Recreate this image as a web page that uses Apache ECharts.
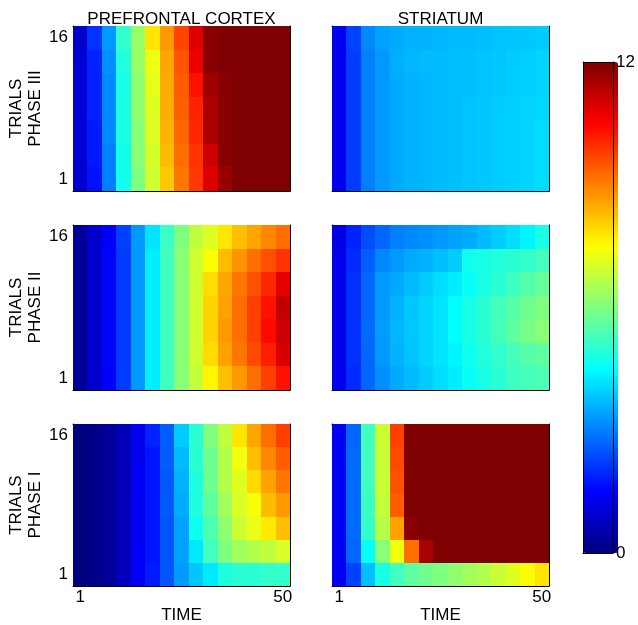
<!DOCTYPE html>
<html><head><meta charset="utf-8">
<script src="https://cdn.jsdelivr.net/npm/echarts@6/dist/echarts.min.js"></script>
<style>html,body{margin:0;padding:0;background:#fff}#c{width:638px;height:625px}</style>
</head><body><div id="c"></div>
<script>
// ---------- data ----------
const TIME = [1, 4.5, 8, 11.5, 15, 18.5, 22, 25.5, 29, 32.5, 36, 39.5, 43, 46.5, 50];
const TRIALS = [1, 3.5, 6, 8.5, 11, 13.5, 16];
const TIME_TICKS = [1, 8, 15, 22, 29, 36, 43, 50];
const TIME_LABELS = [1, 50];
const TRIAL_LABELS = [1, 16];
const COLOR_RANGE = [0, 12];
const REGIONS = ['PREFRONTAL CORTEX', 'STRIATUM'];
const PHASES = ['PHASE III', 'PHASE II', 'PHASE I'];
const X_NAME = 'TIME';
const Y_NAME = 'TRIALS';

// rows listed from trial 1 (bottom) to trial 16 (top)
const PFC_III = [
  [0.95, 1.7, 3.0, 4.7, 6.0, 6.95, 8.15, 9.1, 9.85, 10.9, 11.7, 12, 12, 12, 12],
  [1.0, 1.8, 3.0, 4.7, 6.1, 7.0, 8.3, 9.2, 9.9, 11.1, 11.9, 12, 12, 12, 12],
  [1.0, 1.8, 3.1, 4.8, 6.1, 7.1, 8.4, 9.3, 10.05, 11.5, 11.9, 12, 12, 12, 12],
  [1.0, 1.9, 3.1, 4.8, 6.2, 7.1, 8.45, 9.35, 10.1, 11.5, 11.9, 12, 12, 12, 12],
  [1.0, 1.9, 3.1, 4.8, 6.2, 7.2, 8.5, 9.4, 10.3, 11.6, 11.9, 12, 12, 12, 12],
  [1.0, 1.9, 3.2, 4.9, 6.3, 7.3, 8.55, 9.5, 10.7, 11.9, 12, 12, 12, 12, 12],
  [0.9, 2.1, 3.3, 5.1, 6.3, 7.8, 8.7, 9.7, 10.9, 11.9, 12, 12, 12, 12, 12]
];
const STR_III = [
  [1.3, 2.2, 3.0, 3.3, 3.5, 3.6, 3.65, 3.7, 3.75, 3.8, 3.85, 3.9, 3.95, 4.0, 4.1],
  [1.3, 2.2, 3.0, 3.3, 3.5, 3.6, 3.65, 3.7, 3.75, 3.8, 3.85, 3.9, 3.95, 4.0, 4.1],
  [1.3, 2.2, 3.0, 3.3, 3.5, 3.6, 3.65, 3.7, 3.75, 3.8, 3.85, 3.9, 3.95, 4.0, 4.1],
  [1.3, 2.2, 3.0, 3.3, 3.5, 3.6, 3.65, 3.7, 3.75, 3.8, 3.85, 3.9, 3.95, 4.0, 4.05],
  [1.3, 2.2, 3.0, 3.3, 3.5, 3.6, 3.65, 3.7, 3.75, 3.75, 3.8, 3.85, 3.9, 3.95, 4.0],
  [1.3, 2.2, 3.0, 3.3, 3.55, 3.65, 3.7, 3.7, 3.75, 3.75, 3.8, 3.85, 3.9, 3.95, 4.0],
  [1.3, 2.25, 3.1, 3.4, 3.5, 3.6, 3.6, 3.65, 3.7, 3.7, 3.75, 3.8, 3.85, 3.85, 3.9]
];
const PFC_II = [
  [0.3, 0.9, 1.5, 2.2, 3.3, 4.3, 5.25, 6.1, 6.8, 7.6, 8.25, 8.7, 9.2, 9.75, 10.3],
  [0.3, 0.9, 1.55, 2.2, 3.3, 4.3, 5.25, 6.1, 6.95, 7.9, 8.6, 9.1, 9.65, 10.15, 10.95],
  [0.3, 0.9, 1.55, 2.2, 3.3, 4.3, 5.25, 6.1, 6.95, 8.0, 8.7, 9.2, 9.75, 10.4, 11.1],
  [0.3, 0.9, 1.55, 2.2, 3.3, 4.3, 5.25, 6.1, 6.95, 8.0, 8.6, 9.2, 9.75, 10.3, 11.2],
  [0.3, 0.9, 1.55, 2.2, 3.3, 4.3, 5.25, 6.1, 6.95, 7.9, 8.55, 9.1, 9.55, 10.05, 10.8],
  [0.3, 0.9, 1.55, 2.2, 3.3, 4.3, 5.25, 6.1, 6.95, 7.45, 8.3, 8.75, 9.2, 9.55, 9.9],
  [0.3, 0.9, 1.5, 2.25, 3.3, 4.2, 5.2, 6.0, 6.75, 7.1, 7.8, 8.25, 8.55, 8.9, 9.2]
];
const STR_II = [
  [1.3, 2.0, 2.7, 3.2, 3.5, 3.7, 3.9, 4.1, 4.3, 4.6, 4.8, 5.0, 5.2, 5.3, 5.4],
  [1.3, 2.05, 2.7, 3.3, 3.6, 3.8, 4.0, 4.2, 4.4, 4.7, 4.9, 5.1, 5.3, 5.5, 5.6],
  [1.3, 2.05, 2.75, 3.35, 3.65, 3.85, 4.0, 4.2, 4.5, 4.8, 5.0, 5.3, 5.6, 5.9, 6.1],
  [1.3, 2.05, 2.7, 3.3, 3.6, 3.85, 4.0, 4.2, 4.5, 4.8, 5.0, 5.3, 5.5, 5.8, 6.0],
  [1.3, 2.05, 2.7, 3.3, 3.5, 3.7, 3.9, 4.1, 4.3, 4.6, 4.8, 5.0, 5.2, 5.5, 5.7],
  [1.3, 2.0, 2.6, 3.1, 3.3, 3.5, 3.6, 3.75, 3.9, 4.7, 4.8, 4.9, 5.0, 5.1, 5.3],
  [1.2, 1.9, 2.4, 2.7, 3.0, 3.1, 3.2, 3.3, 3.4, 3.5, 3.7, 3.9, 4.1, 4.4, 4.8]
];
const PFC_I = [
  [0.0, 0.1, 0.3, 0.7, 1.4, 1.8, 2.5, 3.3, 3.85, 4.25, 4.85, 5.0, 5.0, 5.1, 5.1],
  [0.0, 0.1, 0.3, 0.7, 1.4, 1.75, 2.5, 3.4, 4.25, 5.25, 6.0, 6.4, 6.6, 6.75, 7.05],
  [0.0, 0.1, 0.3, 0.7, 1.35, 1.75, 2.5, 3.4, 4.65, 5.4, 6.2, 6.9, 7.25, 7.75, 8.25],
  [0.0, 0.1, 0.3, 0.7, 1.35, 1.75, 2.55, 3.55, 4.85, 5.6, 6.4, 7.05, 7.4, 8.3, 8.7],
  [0.0, 0.1, 0.3, 0.65, 1.35, 1.75, 2.55, 3.6, 4.85, 5.8, 6.6, 7.15, 7.95, 8.6, 9.1],
  [0.0, 0.1, 0.3, 0.65, 1.3, 1.75, 2.6, 3.7, 5.0, 5.8, 6.6, 7.35, 8.25, 8.9, 9.4],
  [0.0, 0.1, 0.3, 0.65, 1.3, 1.9, 2.6, 3.9, 5.0, 6.0, 6.75, 7.8, 8.55, 9.2, 9.75]
];
const STR_I = [
  [1.35, 2.25, 3.75, 4.8, 5.25, 5.6, 5.8, 6.0, 6.2, 6.4, 6.6, 6.9, 7.15, 7.55, 7.8],
  [1.35, 2.7, 4.6, 6.1, 7.35, 9.2, 11.5, 12, 12, 12, 12, 12, 12, 12, 12],
  [1.35, 2.75, 5.1, 6.65, 8.6, 11.9, 12, 12, 12, 12, 12, 12, 12, 12, 12],
  [1.35, 2.75, 5.2, 6.8, 9.4, 12, 12, 12, 12, 12, 12, 12, 12, 12, 12],
  [1.35, 2.75, 5.25, 6.85, 9.55, 12, 12, 12, 12, 12, 12, 12, 12, 12, 12],
  [1.35, 2.75, 5.25, 6.85, 9.65, 12, 12, 12, 12, 12, 12, 12, 12, 12, 12],
  [1.35, 2.7, 5.25, 6.9, 9.75, 12, 12, 12, 12, 12, 12, 12, 12, 12, 12]
];
const PANELS = [[PFC_III, STR_III], [PFC_II, STR_II], [PFC_I, STR_I]];

// ---------- layout / style ----------
const COL_LEFT = [73, 332], COL_W = 217;
const ROW_TOP = [26, 225, 424], ROW_H = 165;
const FONT = "'Liberation Sans', Arial, sans-serif";
const FS = 17;
const JET = ['#00007F', '#0000FF', '#007FFF', '#00FFFF', '#7FFF7F', '#FFFF00', '#FF7F00', '#FF0000', '#7F0000'];

function edges(c) {
  const n = c.length, e = [c[0] - (c[1] - c[0]) / 2];
  for (let i = 1; i < n; i++) e.push((c[i - 1] + c[i]) / 2);
  e.push(c[n - 1] + (c[n - 1] - c[n - 2]) / 2);
  return e;
}
const XE = edges(TIME), YE = edges(TRIALS);

const grids = [], xAxes = [], yAxes = [], series = [];
const line = { show: true, onZero: false, lineStyle: { color: '#000', width: 1 } };
const txt = { color: '#000', fontFamily: FONT, fontSize: FS };

for (let r = 0; r < 3; r++) {
  for (let c = 0; c < 2; c++) {
    const g = grids.length;
    grids.push({ left: COL_LEFT[c], top: ROW_TOP[r], width: COL_W, height: ROW_H, containLabel: false });
    const xBase = { type: 'value', gridIndex: g, min: XE[0], max: XE[XE.length - 1], splitLine: { show: false }, axisLine: line };
    const yBase = { type: 'value', gridIndex: g, min: YE[0], max: YE[YE.length - 1], splitLine: { show: false }, axisLine: line };
    const xt = { inside: true, length: 3, customValues: TIME_TICKS, lineStyle: { color: '#000' } };
    const yt = { inside: true, length: 3, customValues: TRIALS, lineStyle: { color: '#000' } };
    xAxes.push(Object.assign({}, xBase, {
      position: 'bottom', axisTick: xt,
      axisLabel: r === 2 ? Object.assign({ customValues: TIME_LABELS, margin: 3 }, txt) : { show: false },
      name: r === 2 ? X_NAME : '', nameLocation: 'middle', nameGap: 15, nameTextStyle: txt
    }));
    xAxes.push(Object.assign({}, xBase, {
      position: 'top', axisTick: xt, axisLabel: { show: false },
      name: r === 0 ? REGIONS[c] : '', nameLocation: 'middle', nameGap: -2, nameTextStyle: txt
    }));
    yAxes.push(Object.assign({}, yBase, {
      position: 'left', axisTick: yt,
      axisLabel: c === 0 ? Object.assign({ customValues: TRIAL_LABELS, margin: 5 }, txt) : { show: false },
      name: c === 0 ? Y_NAME + '\n' + PHASES[r] : '', nameLocation: 'middle', nameRotate: 90, nameGap: 24,
      nameTextStyle: Object.assign({ lineHeight: 19 }, txt)
    }));
    yAxes.push(Object.assign({}, yBase, { position: 'right', axisTick: yt, axisLabel: { show: false } }));

    const data = [];
    const M = PANELS[r][c];
    for (let i = 0; i < TRIALS.length; i++)
      for (let j = 0; j < TIME.length; j++)
        data.push([XE[j], XE[j + 1], YE[i], YE[i + 1], M[i][j]]);
    series.push({
      type: 'custom', xAxisIndex: 2 * g, yAxisIndex: 2 * g, data: data,
      encode: { x: [0, 1], y: [2, 3] }, silent: true, clip: true,
      renderItem: function (params, api) {
        const a = api.coord([api.value(0), api.value(3)]);
        const b = api.coord([api.value(1), api.value(2)]);
        const x0 = Math.round(a[0]), y0 = Math.round(a[1]);
        const x1 = Math.round(b[0]), y1 = Math.round(b[1]);
        return { type: 'rect', shape: { x: x0, y: y0, width: x1 - x0, height: y1 - y0 },
          style: { fill: api.visual('color') } };
      }
    });
  }
}

// colorbar frame + labels
const CB = { left: 583, top: 62, width: 35, height: 491 };
const cg = grids.length;
grids.push({ left: CB.left, top: CB.top, width: CB.width, height: CB.height });
const cbX = { type: 'value', gridIndex: cg, min: 0, max: 1, z: 10, axisLine: line, axisTick: { show: false }, axisLabel: { show: false }, splitLine: { show: false } };
xAxes.push(Object.assign({}, cbX, { position: 'bottom' }));
xAxes.push(Object.assign({}, cbX, { position: 'top' }));
const cbY = { type: 'value', gridIndex: cg, min: COLOR_RANGE[0], max: COLOR_RANGE[1], z: 10, axisLine: line, axisTick: { show: false }, splitLine: { show: false } };
yAxes.push(Object.assign({}, cbY, { position: 'left', axisLabel: { show: false } }));
yAxes.push(Object.assign({}, cbY, { position: 'right', axisLabel: Object.assign({ customValues: COLOR_RANGE, margin: 3 }, txt) }));

const chart = echarts.init(document.getElementById('c'));
chart.setOption({
  animation: false,
  backgroundColor: '#fff',
  grid: grids, xAxis: xAxes, yAxis: yAxes,
  visualMap: {
    type: 'continuous', min: COLOR_RANGE[0], max: COLOR_RANGE[1], dimension: 4,
    seriesIndex: series.map((s, i) => i), calculable: false, realtime: false,
    left: CB.left, top: CB.top, itemWidth: CB.width, itemHeight: CB.height, padding: 0,
    inRange: { color: JET }, text: null, showLabel: false, hoverLink: false
  },
  series: series
});
</script></body></html>
